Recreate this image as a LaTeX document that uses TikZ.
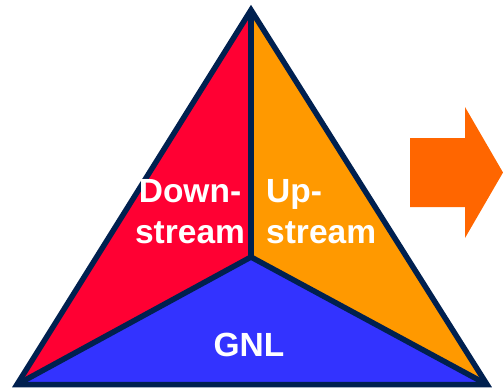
\documentclass[tikz,border=0pt]{standalone}
\usepackage{fontspec}
\setmainfont{Liberation Sans}
\definecolor{navy}{HTML}{00204F}
\definecolor{redf}{HTML}{FF0033}
\definecolor{orgf}{HTML}{FF9900}
\definecolor{bluef}{HTML}{3333FF}
\definecolor{arrowf}{HTML}{FF6600}
\begin{document}
\begin{tikzpicture}[x=1pt,y=-1pt,
  edge/.style={draw=navy,line width=5.5pt,line join=miter},
  lbl/.style={text=white,font=\fontsize{33.5}{33.5}\selectfont\bfseries,inner sep=0pt}]
\useasboundingbox (0,0) rectangle (503,389);
\coordinate (A) at (251,10);
\coordinate (L) at (17,384.5);
\coordinate (R) at (487,384.5);
\coordinate (C) at (251,257);
\fill[redf] (A) -- (C) -- (L) -- cycle;
\fill[orgf] (A) -- (R) -- (C) -- cycle;
\fill[bluef] (L) -- (C) -- (R) -- cycle;
\draw[edge] (A) -- (C);
\draw[edge] (L) -- (C) -- (R);
\draw[edge] (A) -- (L) -- (R) -- cycle;
\node[lbl,anchor=base] (d1) at (190,202) {Down-};
\node[lbl,anchor=base] (d2) at (190,243) {stream};
\node[lbl,anchor=base west] (u1) at (266,202) {Up-};
\node[lbl,anchor=base west] (u2) at (266,243) {stream};
\node[lbl,anchor=base] (g) at (249,356) {GNL};
\fill[arrowf] (410,138) -- (465,138) -- (465,107) -- (503,172.5) -- (465,238) -- (465,207) -- (410,207) -- cycle;
\end{tikzpicture}
\end{document}
